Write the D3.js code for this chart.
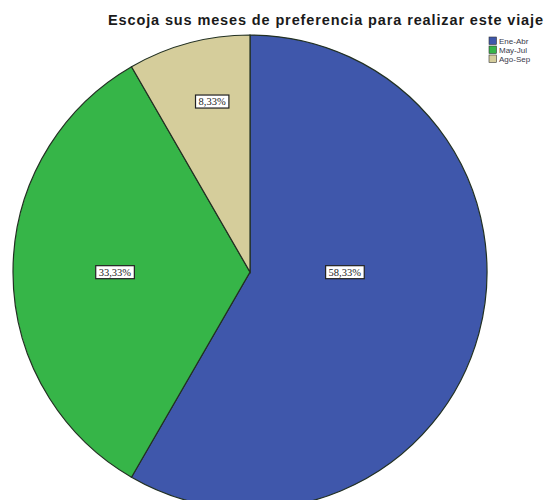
<!DOCTYPE html>
<html>
<head>
<meta charset="utf-8">
<script src="https://cdn.jsdelivr.net/npm/d3@7"></script>
<style>
  html, body { margin: 0; padding: 0; background: #ffffff; }
  svg { display: block; }
</style>
</head>
<body>
<svg id="chart" width="545" height="500"></svg>
<script>
// Survey answers: preferred months for the trip
const categories = ["Ene-Abr", "May-Jul", "Ago-Sep"];
const percentages = [58.33, 33.33, 8.33];
const sliceColors = ["#3f57ab", "#36b548", "#d5cd9b"];
const titleText = "Escoja sus meses de preferencia para realizar este viaje";

const width = 545, height = 500;
const cx = 250, cy = 272, radius = 237;

const svg = d3.select("#chart");

// Title, stretched to span the top of the plot
svg.append("text")
  .attr("x", 108)
  .attr("y", 25)
  .attr("font-family", "Liberation Sans, Arial, sans-serif")
  .attr("font-weight", "bold")
  .attr("font-size", 14.5)
  .attr("textLength", 435)
  .attr("lengthAdjust", "spacing")
  .attr("fill", "#1a1a1a")
  .text(titleText);

// Pie slices, clockwise from 12 o'clock
const pie = d3.pie().sort(null).value(d => d.value);
const arcs = pie(categories.map((c, i) => ({ name: c, value: percentages[i], color: sliceColors[i] })));
const arc = d3.arc().innerRadius(0).outerRadius(radius);

const g = svg.append("g").attr("transform", `translate(${cx},${cy})`);

g.selectAll("path.slice")
  .data(arcs)
  .join("path")
  .attr("class", "slice")
  .attr("d", arc)
  .attr("fill", d => d.data.color)
  .attr("stroke", "#223022")
  .attr("stroke-width", 1.2);

// Percentage labels: anchor per slice as fractions of the radius
const labelAnchors = [[0.40, 0.0], [-0.57, 0.0], [-0.16, -0.72]];
const fmt = v => v.toFixed(2).replace(".", ",") + "%";

const lbl = g.selectAll("g.lbl")
  .data(arcs)
  .join("g")
  .attr("class", "lbl")
  .attr("transform", (d, i) => `translate(${labelAnchors[i][0] * radius},${labelAnchors[i][1] * radius})`);

lbl.each(function(d) {
  const sel = d3.select(this);
  const t = sel.append("text")
    .attr("text-anchor", "middle")
    .attr("dy", "0.35em")
    .attr("font-family", "Liberation Serif, Times New Roman, serif")
    .attr("font-size", 10.5)
    .attr("fill", "#222")
    .text(fmt(d.data.value));
  const bb = t.node().getBBox();
  sel.insert("rect", "text")
    .attr("x", bb.x - 3)
    .attr("y", bb.y - 1)
    .attr("width", bb.width + 6)
    .attr("height", bb.height + 2)
    .attr("fill", "#ffffff")
    .attr("stroke", "#222")
    .attr("stroke-width", 1.2);
});

// Legend
const legend = svg.append("g").attr("transform", "translate(489,37)");
const rows = legend.selectAll("g.row")
  .data(categories)
  .join("g")
  .attr("class", "row")
  .attr("transform", (d, i) => `translate(0,${i * 9})`);
rows.append("rect")
  .attr("width", 7.5)
  .attr("height", 7.5)
  .attr("fill", (d, i) => sliceColors[i])
  .attr("stroke", "#333")
  .attr("stroke-width", 0.6);
rows.append("text")
  .attr("x", 10)
  .attr("y", 7)
  .attr("font-family", "Liberation Sans, Arial, sans-serif")
  .attr("font-size", 8)
  .attr("fill", "#3a3a4a")
  .text(d => d);
</script>
</body>
</html>
